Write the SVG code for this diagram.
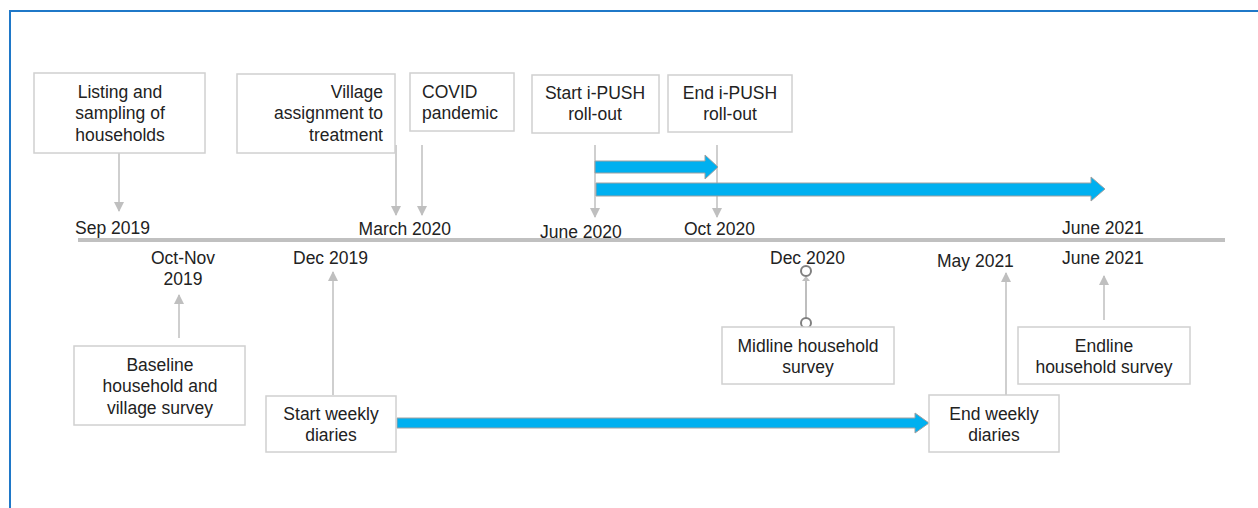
<svg xmlns="http://www.w3.org/2000/svg" width="1258" height="508" viewBox="0 0 1258 508">
<style>
.box{fill:#fff;stroke:#d0d0d0;stroke-width:1.5}
text{font-family:"Liberation Sans",Arial,sans-serif;font-size:17.5px;fill:#222}
.c{text-anchor:middle}
.r{text-anchor:end}
.gl{stroke:#bfbfbf;stroke-width:1.5;fill:none}
.blue{fill:#00b0f0;stroke:#a0a0a0;stroke-width:1}
</style>
<defs>
<marker id="ah" viewBox="0 0 10 10" refX="9" refY="5" markerWidth="10" markerHeight="10" markerUnits="userSpaceOnUse" orient="auto">
<path d="M0,0 L10,5 L0,10 Z" fill="#bfbfbf"/>
</marker>
</defs>
<rect width="1258" height="508" fill="#fff"/>
<path d="M10,508 V11 H1258" fill="none" stroke="#1f78c8" stroke-width="2"/>
<line x1="78" y1="240" x2="1225" y2="240" stroke="#c0c0c0" stroke-width="4"/>

<g id="connectors">
<line class="gl" x1="119" y1="153" x2="119" y2="211" marker-end="url(#ah)"/>
<line class="gl" x1="396" y1="145" x2="396" y2="215" marker-end="url(#ah)"/>
<line class="gl" x1="422" y1="145" x2="422" y2="215" marker-end="url(#ah)"/>
<line class="gl" x1="595" y1="145" x2="595" y2="217" marker-end="url(#ah)"/>
<line class="gl" x1="717" y1="145" x2="717" y2="217" marker-end="url(#ah)"/>
<line class="gl" x1="179" y1="338" x2="179" y2="295" marker-end="url(#ah)"/>
<line class="gl" x1="333" y1="395" x2="333" y2="272" marker-end="url(#ah)"/>
<line class="gl" x1="1006" y1="395" x2="1006" y2="273" marker-end="url(#ah)"/>
<line class="gl" x1="1104" y1="320" x2="1104" y2="276" marker-end="url(#ah)"/>
<line x1="806" y1="318" x2="806" y2="277" stroke="#a8a8a8" stroke-width="1.5"/>
<path d="M802,281 L806,276 L810,281 Z" fill="#bfbfbf"/>
<circle cx="806" cy="271" r="5" fill="#fff" stroke="#808080" stroke-width="2"/>
<circle cx="806" cy="323" r="5" fill="#fff" stroke="#808080" stroke-width="2"/>
<path class="blue" d="M595,161 H705 V155 L718,167 L705,179 V173 H595 Z"/>
<path class="blue" d="M596,183 H1091 V177 L1105,189 L1091,201 V196 H596 Z"/>
<path class="blue" d="M397,418 H915 V413 L929,423 L915,433 V428 H397 Z"/>
</g>

<g id="listing"><rect class="box" x="34" y="73" width="171" height="80"/>
<text class="c" x="120" y="98">Listing and</text><text class="c" x="120" y="119">sampling of</text><text class="c" x="120" y="141">households</text></g>
<g id="village"><rect class="box" x="237" y="74" width="158" height="79"/>
<text class="r" x="383" y="98">Village</text><text class="r" x="383" y="119">assignment to</text><text class="r" x="383" y="141">treatment</text></g>
<g id="covid"><rect class="box" x="410" y="73" width="104" height="58"/>
<text x="422" y="98">COVID</text><text x="422" y="119">pandemic</text></g>
<g id="start-ipush"><rect class="box" x="532" y="75" width="127" height="58"/>
<text class="c" x="595" y="99">Start i-PUSH</text><text class="c" x="595" y="120">roll-out</text></g>
<g id="end-ipush"><rect class="box" x="668" y="75" width="124" height="57"/>
<text class="c" x="730" y="99">End i-PUSH</text><text class="c" x="730" y="120">roll-out</text></g>
<g id="baseline"><rect class="box" x="74" y="346" width="171" height="79"/>
<text class="c" x="160" y="371">Baseline</text><text class="c" x="160" y="392">household and</text><text class="c" x="160" y="414">village survey</text></g>
<g id="start-weekly"><rect class="box" x="266" y="396" width="130" height="56"/>
<text class="c" x="331" y="420">Start weekly</text><text class="c" x="331" y="441">diaries</text></g>
<g id="midline"><rect class="box" x="722" y="327" width="172" height="57"/>
<text class="c" x="808" y="352">Midline household</text><text class="c" x="808" y="373">survey</text></g>
<g id="endline"><rect class="box" x="1018" y="327" width="172" height="57"/>
<text class="c" x="1104" y="352">Endline</text><text class="c" x="1104" y="373">household survey</text></g>
<g id="end-weekly"><rect class="box" x="929" y="395" width="130" height="57"/>
<text class="c" x="994" y="420">End weekly</text><text class="c" x="994" y="441">diaries</text></g>

<g id="dates">
<text x="75" y="234">Sep 2019</text>
<text class="r" x="451" y="235">March 2020</text>
<text x="540" y="238">June 2020</text>
<text x="684" y="235">Oct 2020</text>
<text x="1062" y="234">June 2021</text>
<text class="c" x="183" y="264">Oct-Nov</text>
<text class="c" x="183" y="285">2019</text>
<text x="293" y="264">Dec 2019</text>
<text x="770" y="264">Dec 2020</text>
<text x="937" y="267">May 2021</text>
<text x="1062" y="264">June 2021</text>
</g>
</svg>
